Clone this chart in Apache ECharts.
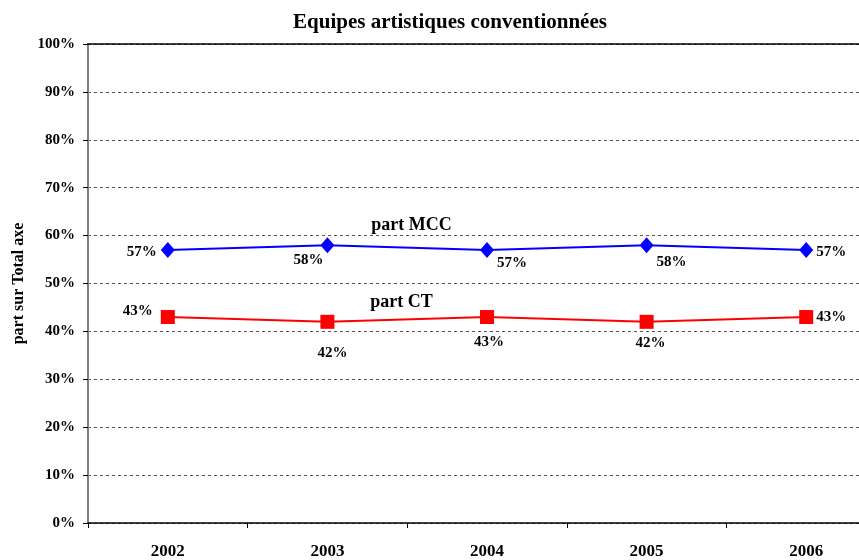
<!DOCTYPE html>
<html>
<head>
<meta charset="utf-8">
<script src="https://cdn.jsdelivr.net/npm/echarts@6/dist/echarts.min.js"></script>
<style>
  html, body { margin: 0; padding: 0; background: #fff; overflow: hidden; }
  /* le graphique d'origine est coupé à droite */
  #chart { width: 886px; height: 560px; }
</style>
</head>
<body>
<div id="chart"></div>
<script>
// données
var years = ['2002', '2003', '2004', '2005', '2006'];
var partMCC = [57, 58, 57, 58, 57];
var partCT = [43, 42, 43, 42, 43];
var yTicks = [0, 10, 20, 30, 40, 50, 60, 70, 80, 90, 100];

// décalage des étiquettes autour des points (px)
var mccLabelOffsets = [[-26, 2], [-19, 15], [25, 13], [25, 17], [25, 2]];
var ctLabelOffsets = [[-30, -6], [5, 31], [2, 25], [4, 21], [25, 0]];

var serif = '"Liberation Serif", "Times New Roman", serif';

function withLabels(values, offsets) {
  return values.map(function (v, i) {
    return {
      value: v,
      label: { offset: offsets[i] }
    };
  });
}

var chart = echarts.init(document.getElementById('chart'));
chart.setOption({
  animation: false,
  title: {
    text: 'Equipes artistiques conventionnées',
    left: 445,
    top: 7,
    textAlign: 'center',
    textStyle: { fontFamily: serif, fontWeight: 'bold', fontSize: 21, color: '#000' }
  },
  grid: { left: 88, top: 44, bottom: 36, right: 0 },
  xAxis: [
    {
      type: 'category',
      data: years,
      boundaryGap: true,
      axisLine: { lineStyle: { color: '#000', width: 1.5 } },
      axisTick: { show: true, length: 5, lineStyle: { color: '#000' } },
      axisLabel: { margin: 20, fontFamily: serif, fontWeight: 'bold', fontSize: 17, color: '#000' }
    },
    {
      type: 'category',
      data: years,
      position: 'top',
      axisLine: { lineStyle: { color: '#000', width: 1.5 } },
      axisTick: { show: false },
      axisLabel: { show: false }
    }
  ],
  yAxis: {
    type: 'value',
    min: yTicks[0],
    max: yTicks[yTicks.length - 1],
    interval: 10,
    name: 'part sur Total axe',
    nameLocation: 'middle',
    nameGap: 59,
    nameTextStyle: { fontFamily: serif, fontWeight: 'bold', fontSize: 16, color: '#000' },
    axisLine: { show: true, lineStyle: { color: '#808080', width: 2 } },
    axisTick: { show: true, length: 5, lineStyle: { color: '#000' } },
    axisLabel: {
      margin: 13,
      fontFamily: serif, fontWeight: 'bold', fontSize: 15, color: '#000',
      formatter: '{value}%'
    },
    splitLine: { lineStyle: { color: '#555', type: [3, 3], width: 1 } }
  },
  series: [
    {
      name: 'part MCC',
      type: 'line',
      data: withLabels(partMCC, mccLabelOffsets),
      symbol: 'diamond',
      symbolSize: [14, 16],
      itemStyle: { color: '#0000ff' },
      lineStyle: { color: '#0000ff', width: 2 },
      label: {
        show: true,
        position: 'inside',
        formatter: '{c}%',
        fontFamily: serif, fontWeight: 'bold', fontSize: 15, color: '#000'
      },
      markPoint: {
        symbol: 'circle',
        symbolSize: 0,
        data: [{ coord: ['2003', partMCC[1]], value: 0 }],
        label: {
          show: true,
          formatter: 'part MCC',
          position: 'inside',
          offset: [84, -20],
          fontFamily: serif, fontWeight: 'bold', fontSize: 18, color: '#000'
        }
      }
    },
    {
      name: 'part CT',
      type: 'line',
      data: withLabels(partCT, ctLabelOffsets),
      symbol: 'rect',
      symbolSize: 14,
      itemStyle: { color: '#ff0000' },
      lineStyle: { color: '#ff0000', width: 2 },
      label: {
        show: true,
        position: 'inside',
        formatter: '{c}%',
        fontFamily: serif, fontWeight: 'bold', fontSize: 15, color: '#000'
      },
      markPoint: {
        symbol: 'circle',
        symbolSize: 0,
        data: [{ coord: ['2003', partCT[1]], value: 0 }],
        label: {
          show: true,
          formatter: 'part CT',
          position: 'inside',
          offset: [74, -19],
          fontFamily: serif, fontWeight: 'bold', fontSize: 18, color: '#000'
        }
      }
    }
  ]
});
</script>
</body>
</html>
